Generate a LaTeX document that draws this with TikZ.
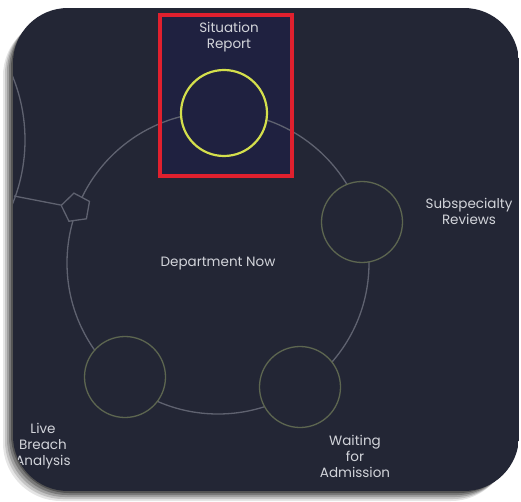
\documentclass[tikz,border=0pt]{standalone}
\usepackage{fontspec}
\setmainfont{Poppins}
\usetikzlibrary{shapes.geometric}
\definecolor{panel}{HTML}{232635}
\definecolor{navy}{HTML}{1F2140}
\definecolor{ringc}{HTML}{5F6270}
\definecolor{dimg}{HTML}{5D6650}
\definecolor{yel}{HTML}{D4DF4C}
\definecolor{redb}{HTML}{E0202E}
\definecolor{txt}{HTML}{D2D4DA}
\begin{document}
\begin{tikzpicture}[x=1pt,y=-1pt,
  lbl/.style={text=txt, font=\fontsize{13.5}{16}\selectfont, align=center, inner sep=0pt},
  sub/.style={circle, draw=dimg, line width=1.3pt, fill=panel, minimum size=81pt, inner sep=0pt},
  ringline/.style={draw=ringc, line width=1.3pt},
]
\useasboundingbox (0,0) rectangle (521,502);
\fill[white] (0,0) rectangle (521,502);
% shadow
\foreach \d/\o in {10/0.10, 8/0.14, 6/0.18, 4/0.24, 2/0.30}{
  \fill[black, opacity=\o, rounded corners=58pt] (13-\d,8+\d) rectangle (519-\d,491+\d);
}
\begin{scope}
  \clip[rounded corners=55pt] (13,8) rectangle (519,491);
  \fill[panel] (13,8) rectangle (519,491);
  \draw[ringline] (-144,140) circle (169);
  \node[lbl] (livel) at (43,446) {Live\\Breach\\Analysis};
\end{scope}
% red box fill
\fill[navy] (160,15) rectangle (292,176);
% ring
\node[circle, ringline, minimum size=302pt, inner sep=0pt] (ring) at (218,263) {};
% pentagon and connector
\coordinate (edgeL) at (14,196);
\node[regular polygon, regular polygon sides=5, ringline, fill=panel, minimum size=30pt, inner sep=0pt, rotate=8] (pent) at (76,208) {};
\draw[ringline] (pent) -- (edgeL);
% red border
\draw[redb, line width=4pt] (160,15) rectangle (292,176);
% circles
\node[circle, draw=yel, line width=2.2pt, fill=navy, minimum size=86pt, inner sep=0pt] (sit) at (224,113) {};
\node[sub] (subsp) at (362,222) {};
\node[sub] (wait) at (300,387) {};
\node[sub] (live) at (125,377) {};
% labels
\node[lbl] (sitl) at (229,37) {Situation\\Report};
\node[lbl] (subl) at (469,211) {Subspecialty\\Reviews};
\node[lbl] (dept) at (218,264) {Department Now};
\node[lbl] (waitl) at (355,456) {Waiting\\for\\Admission};
\end{tikzpicture}
\end{document}
